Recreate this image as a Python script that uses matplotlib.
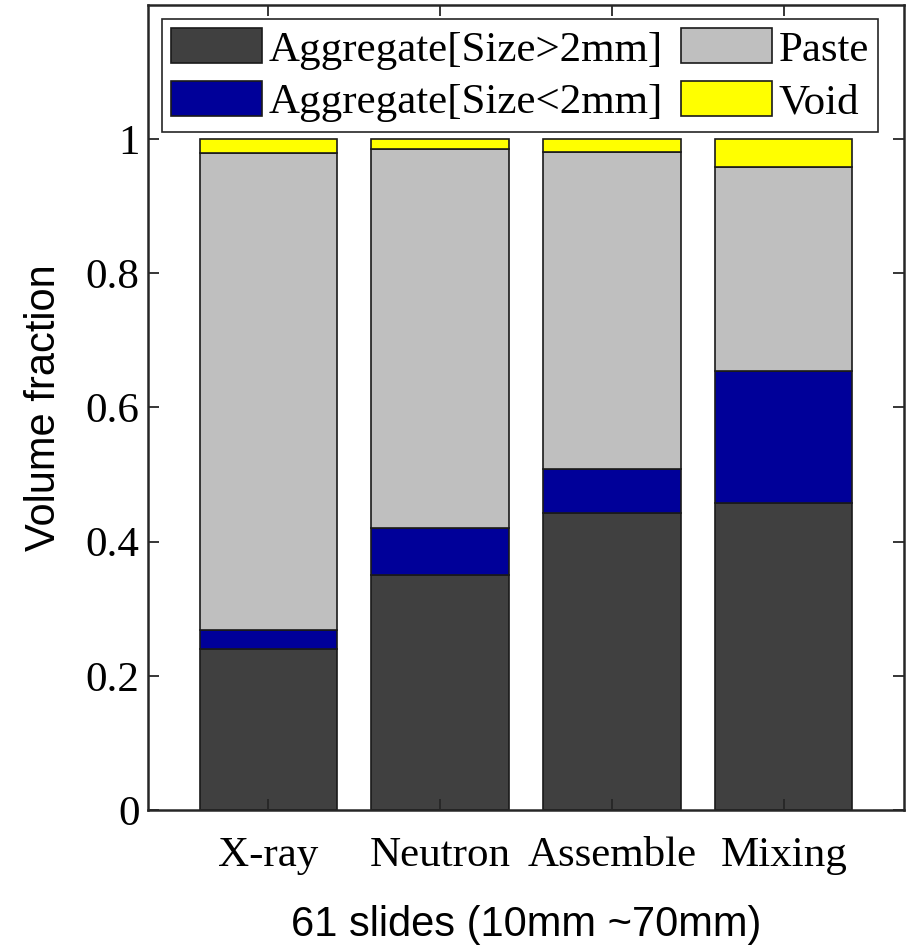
import numpy as np
import matplotlib
matplotlib.use('Agg')
import matplotlib.pyplot as plt
from matplotlib.ticker import FormatStrFormatter

# Data
methods = ['X-ray', 'Neutron', 'Assemble', 'Mixing']
agg_large = [0.240, 0.351, 0.442, 0.457]
agg_small = [0.029, 0.070, 0.067, 0.198]
paste = [0.710, 0.564, 0.472, 0.303]
void = [0.021, 0.015, 0.019, 0.042]

labels = ['Aggregate[Size>2mm]', 'Aggregate[Size<2mm]', 'Paste', 'Void']
colors = ['#404040', '#000099', '#bfbfbf', '#ffff00']

serif = 'Liberation Serif'
sans = 'Liberation Sans'

fig = plt.figure(figsize=(9.06, 9.47), dpi=100)
ax = fig.add_axes([0.1634, 0.1447, 0.8344, 0.85])

x = np.arange(1, len(methods) + 1)
series = [agg_large, agg_small, paste, void]
bottom = np.zeros(len(methods))
for vals, lab, col in zip(series, labels, colors):
    ax.bar(x, vals, 0.8, bottom=bottom, color=col, edgecolor='#1a1a1a',
           linewidth=1.2, label=lab)
    bottom += np.array(vals)

ax.set_xlim(0.3, 4.7)
ax.set_ylim(0, 1.2)
ax.set_xticks(x)
ax.set_xticklabels(methods, fontfamily=serif, fontsize=31)
ax.set_yticks(np.arange(0, 1.01, 0.2))
ax.yaxis.set_major_formatter(FormatStrFormatter('%g'))
for t in ax.get_yticklabels():
    t.set_fontfamily(serif)
    t.set_fontsize(31)

ax.tick_params(direction='in', length=8, width=1.3, top=True, right=True,
               colors='#262626', pad=6)
ax.tick_params(axis='x', pad=19)
for t in ax.get_xticklabels() + ax.get_yticklabels():
    t.set_color('black')
for s in ax.spines.values():
    s.set_linewidth(1.8)
    s.set_color('#262626')

ax.set_ylabel('Volume fraction', fontfamily=sans, fontsize=30, labelpad=16)
ax.set_xlabel('61 slides (10mm ~70mm)', fontfamily=sans, fontsize=30, labelpad=22)

leg = ax.legend(ncol=2, loc='upper left', bbox_to_anchor=(0.0185, 0.983),
                prop={'family': serif, 'size': 31}, handlelength=2.1,
                handleheight=0.88, handletextpad=0.16, columnspacing=0.42,
                labelspacing=0.26, borderpad=0.22, fancybox=False,
                framealpha=1, edgecolor='#262626', borderaxespad=0)
leg.get_frame().set_linewidth(1.2)

fig.savefig('out.png', dpi=100)
